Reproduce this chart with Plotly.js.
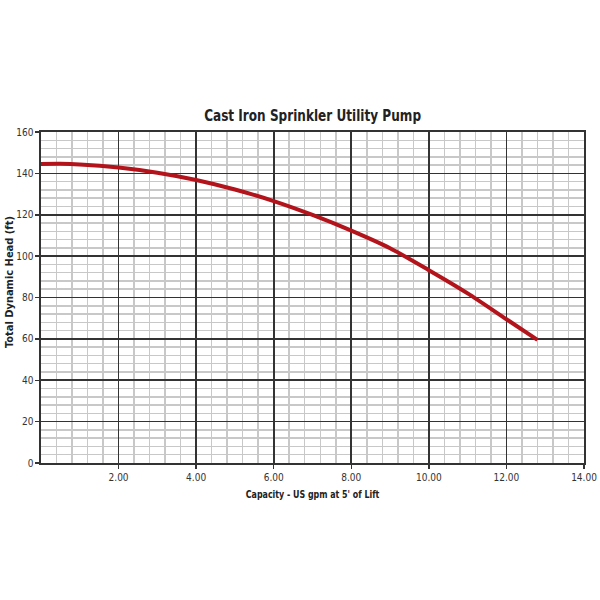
<!DOCTYPE html>
<html>
<head>
<meta charset="utf-8">
<script src="https://cdn.plot.ly/plotly-3.0.1.min.js"></script>
<style>
html,body{margin:0;padding:0;background:#fff;}
#chart{width:600px;height:600px;}
#chart .gtitle{transform-box:fill-box;transform-origin:center;transform:scaleX(0.84);}
#chart .xtitle{transform-box:fill-box;transform-origin:center;transform:scaleX(0.8);}
</style>
</head>
<body>
<div id="chart"></div>
<script>
const capacity = [0, 0.5, 1, 2, 3, 4, 5, 6, 7, 8, 9, 10, 11, 12, 12.8];
const head = [144.5, 144.6, 144.3, 142.8, 140.3, 136.8, 132.2, 126.6, 119.9, 112.3, 103.8, 93.2, 82.0, 69.5, 59.5];
const xTickVals = [2, 4, 6, 8, 10, 12, 14];
const xTickText = ["2.00", "4.00", "6.00", "8.00", "10.00", "12.00", "14.00"];
const yTickVals = [0, 20, 40, 60, 80, 100, 120, 140, 160];

const narrow = "'DejaVu Sans Condensed', 'Liberation Sans Narrow', 'Arial Narrow', 'Liberation Sans', Arial, sans-serif";

Plotly.newPlot('chart', [{
  x: capacity,
  y: head,
  type: 'scatter',
  mode: 'lines',
  line: {color: '#b3141c', width: 4, shape: 'spline', smoothing: 0.8},
  hoverinfo: 'skip'
}], {
  width: 600, height: 600,
  margin: {l: 41, r: 16, t: 132, b: 137},
  paper_bgcolor: '#ffffff',
  plot_bgcolor: '#ffffff',
  showlegend: false,
  title: {
    text: '<b>Cast Iron Sprinkler Utility Pump</b>',
    font: {family: narrow, size: 16, color: '#222'},
    x: 0.521, xanchor: 'center', y: 0.808, yanchor: 'middle'
  },
  xaxis: {
    range: [0, 14],
    tickvals: xTickVals,
    ticktext: xTickText,
    ticks: 'outside', ticklen: 4, tickwidth: 1.5, tickcolor: '#333',
    tickfont: {family: narrow, size: 10, color: '#333'},
    showgrid: true, gridcolor: '#333', gridwidth: 1.6,
    minor: {dtick: 0.4, tick0: 0, showgrid: true, gridcolor: '#c8c8c8', gridwidth: 1.5, ticks: ''},
    showline: true, linecolor: '#333', linewidth: 1.6, mirror: true,
    zeroline: false, fixedrange: true,
    title: {text: "<b>Capacity - US gpm at 5' of Lift</b>", font: {family: narrow, size: 11, color: '#222'}, standoff: 9}
  },
  yaxis: {
    range: [0, 160],
    tickvals: yTickVals,
    ticks: 'outside', ticklen: 4, tickwidth: 1.5, tickcolor: '#333',
    tickfont: {family: narrow, size: 10, color: '#333'},
    showgrid: true, gridcolor: '#333', gridwidth: 1.6,
    minor: {dtick: 4, tick0: 0, showgrid: true, gridcolor: '#c8c8c8', gridwidth: 1.5, ticks: ''},
    showline: true, linecolor: '#333', linewidth: 1.6, mirror: true,
    zeroline: false, fixedrange: true
  },
  annotations: [{
    text: '<b>Total Dynamic Head (ft)</b>',
    font: {family: narrow, size: 11, color: '#222'},
    textangle: -90,
    xref: 'paper', yref: 'paper',
    x: -0.058, y: 0.545,
    xanchor: 'center', yanchor: 'middle',
    showarrow: false
  }]
}, {displayModeBar: false, staticPlot: true});
</script>
</body>
</html>
